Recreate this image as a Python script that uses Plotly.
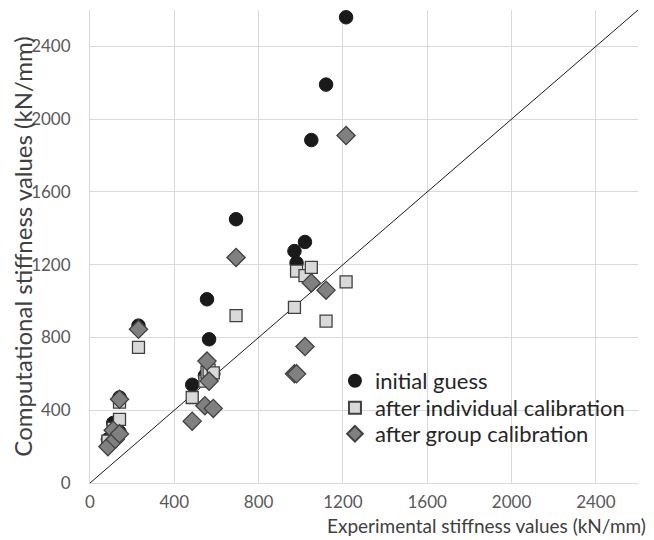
import plotly.graph_objects as go

# Experimental stiffness (kN/mm) per specimen
experimental = [85, 110, 120, 140, 140, 230, 485, 545, 555, 565, 585, 693, 970, 980, 1020, 1050, 1120, 1215]
# Computational stiffness values (kN/mm)
initial_guess = [240, 330, 300, 280, 470, 865, 540, 590, 1010, 790, 600, 1450, 1275, 1210, 1325, 1885, 2190, 2560]
individual_cal = [230, 300, 270, 350, 445, 745, 470, 560, 610, 620, 605, 920, 965, 1165, 1140, 1185, 890, 1105]
group_cal = [200, 290, 240, 270, 460, 845, 340, 425, 670, 560, 410, 1240, 600, 600, 750, 1100, 1060, 1910]

axis_range = [0, 2600]
diag = [0, 2600]
tick_vals = [0, 400, 800, 1200, 1600, 2000, 2400]

font_family = "Lato, 'Open Sans', sans-serif"

fig = go.Figure()

fig.add_trace(go.Scatter(
    x=diag, y=diag, mode="lines", line=dict(color="#1a1a1a", width=1),
    showlegend=False, hoverinfo="skip"))

fig.add_trace(go.Scatter(
    x=experimental, y=initial_guess, mode="markers", name="initial guess",
    legend="legend",
    marker=dict(symbol="circle", size=13.5, color="#1a1a1a",
                line=dict(color="#1a1a1a", width=1))))
fig.add_trace(go.Scatter(
    x=experimental, y=individual_cal, mode="markers", name="after individual calibration",
    legend="legend2",
    marker=dict(symbol="square", size=12, color="#d9d9d9",
                line=dict(color="#404040", width=1.3))))
fig.add_trace(go.Scatter(
    x=experimental, y=group_cal, mode="markers", name="after group calibration",
    legend="legend3",
    marker=dict(symbol="diamond", size=14, color="#808080",
                line=dict(color="#404040", width=1.3))))

axis_common = dict(
    range=axis_range, tickvals=tick_vals, showgrid=True, gridcolor="#d9d9d9",
    gridwidth=1, zeroline=False, showline=True, linecolor="#d9d9d9", linewidth=1,
    ticks="", tickfont=dict(family=font_family, size=17, color="#595959"),
    fixedrange=True,
)

fig.update_xaxes(**axis_common, ticklabelstandoff=4)
fig.update_yaxes(**axis_common, ticklabelstandoff=15,
                 title=dict(text="Computational stiffness values (kN/mm)",
                            font=dict(family=font_family, size=24, color="#404040"),
                            standoff=4))

fig.add_annotation(
    text="Experimental stiffness values (kN/mm)", xref="paper", yref="paper",
    x=1, xshift=10, xanchor="right", y=-0.089, yanchor="middle", showarrow=False,
    font=dict(family=font_family, size=19, color="#404040"))

legend_style = dict(x=0.447, xanchor="left", yanchor="middle",
                    bgcolor="rgba(0,0,0,0)",
                    font=dict(family=font_family, size=22, color="#262626"),
                    itemsizing="constant")

fig.update_layout(
    width=646, height=532,
    margin=dict(l=82, r=16, t=2, b=57),
    paper_bgcolor="white", plot_bgcolor="white",
    font=dict(family=font_family, color="#404040"),
    legend=dict(**legend_style, y=0.2156),
    legend2=dict(**legend_style, y=0.1586),
    legend3=dict(**legend_style, y=0.1036),
)

fig.write_html("out.html")
